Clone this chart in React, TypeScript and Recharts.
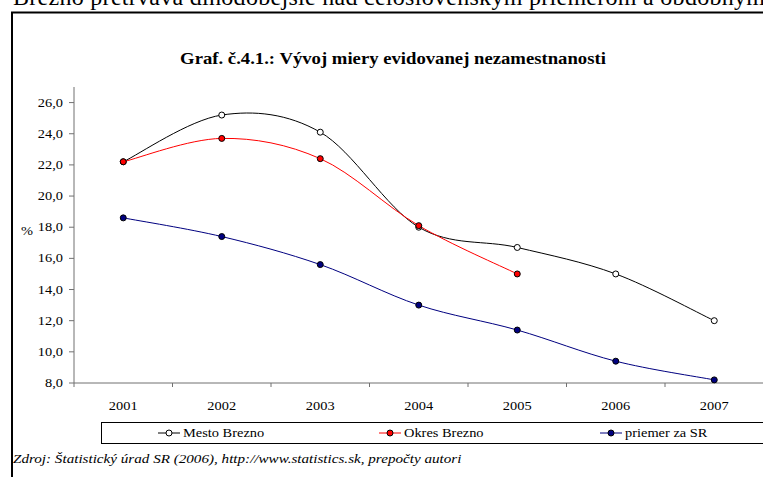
import React from 'react';
import { LineChart, Line, XAxis, YAxis, Legend } from 'recharts';

const years = ['2001', '2002', '2003', '2004', '2005', '2006', '2007'];
const mestoBrezno = [22.2, 25.2, 24.1, 18.0, 16.7, 15.0, 12.0];
const okresBrezno: (number | null)[] = [22.2, 23.7, 22.4, 18.1, 15.0, null, null];
const priemerSR = [18.6, 17.4, 15.6, 13.0, 11.4, 9.4, 8.2];
const yTicks = [8, 10, 12, 14, 16, 18, 20, 22, 24, 26];

const series = [
  { key: 'mesto', name: 'Mesto Brezno', values: mestoBrezno, stroke: '#000000', fill: '#FFFFFF' },
  { key: 'okres', name: 'Okres Brezno', values: okresBrezno, stroke: '#FF0000', fill: '#FF0000' },
  { key: 'sr', name: 'priemer za SR', values: priemerSR, stroke: '#000080', fill: '#000080' },
];

const data = years.map((year, i) => {
  const row: any = { pos: i + 0.5, year };
  series.forEach((s) => {
    row[s.key] = s.values[i];
  });
  return row;
});

const xTicks = years.flatMap((_, i) => [i, i + 0.5]).concat([years.length]);

const AXIS = '#707070';
const FONT = 'Liberation Serif, serif';

// Excel-like smoothed line (Catmull-Rom through points)
const excelSmooth = (context: any) => {
  let pts: number[][] = [];
  return {
    areaStart() {},
    areaEnd() {},
    lineStart() {
      pts = [];
    },
    point(x: number, y: number) {
      pts.push([+x, +y]);
    },
    lineEnd() {
      const n = pts.length;
      if (!n) return;
      context.moveTo(pts[0][0], pts[0][1]);
      for (let i = 0; i < n - 1; i++) {
        const p0 = pts[Math.max(i - 1, 0)];
        const p1 = pts[i];
        const p2 = pts[i + 1];
        const p3 = pts[Math.min(i + 2, n - 1)];
        context.bezierCurveTo(
          p1[0] + (p2[0] - p0[0]) / 6,
          p1[1] + (p2[1] - p0[1]) / 6,
          p2[0] - (p3[0] - p1[0]) / 6,
          p2[1] - (p3[1] - p1[1]) / 6,
          p2[0],
          p2[1]
        );
      }
    },
  };
};

const XTick = (props: any) => {
  const { x, y, payload } = props;
  const v = payload.value;
  if (Number.isInteger(v)) {
    return <line x1={x} x2={x} y1={y} y2={y + 4} stroke={AXIS} strokeWidth={1} />;
  }
  return (
    <text
      transform={`translate(${x},${y + 27}) scale(1.2,1)`}
      textAnchor="middle"
      fontSize={12}
      fontFamily={FONT}
      fill="#000"
    >
      {years[Math.floor(v)]}
    </text>
  );
};

const YTick = (props: any) => {
  const { x, y, payload } = props;
  return (
    <g>
      <line x1={x - 5} x2={x} y1={y} y2={y} stroke={AXIS} strokeWidth={1} />
      <text
        transform={`translate(${x - 11},${y + 4}) scale(1.2,1)`}
        textAnchor="end"
        fontSize={12}
        fontFamily={FONT}
        fill="#000"
      >
        {Number(payload.value).toFixed(1).replace('.', ',')}
      </text>
    </g>
  );
};

const LegendBox = () => (
  <div
    style={{
      position: 'relative',
      width: 700,
      height: 22,
      border: '1px solid #000',
      boxSizing: 'border-box',
      background: '#fff',
      fontFamily: FONT,
    }}
  >
    {series.map((s, i) => (
      <div
        key={s.key}
        style={{
          position: 'absolute',
          left: 56 + i * 221,
          top: 0,
          height: 20,
          display: 'flex',
          alignItems: 'center',
          whiteSpace: 'nowrap',
        }}
      >
        <svg width={22} height={10} style={{ display: 'block' }}>
          <line x1={0} x2={22} y1={5} y2={5} stroke={s.stroke} strokeWidth={1} />
          <circle cx={11} cy={5} r={3} fill={s.fill} stroke="#000" strokeWidth={1} />
        </svg>
        <span
          style={{
            display: 'inline-block',
            marginLeft: 3,
            fontSize: 12,
            fontFamily: FONT,
            color: '#000',
            transform: 'scaleX(1.2)',
            transformOrigin: 'left center',
          }}
        >
          {s.name}
        </span>
      </div>
    ))}
  </div>
);

export default function App() {
  return (
    <div
      style={{
        position: 'fixed',
        left: 0,
        top: 0,
        width: 763,
        height: 477,
        overflow: 'hidden',
        background: '#fff',
        fontFamily: FONT,
      }}
    >
      <svg width={763} height={477} style={{ position: 'absolute', left: 0, top: 0 }}>
        <text x={13} y={5} fontSize={24} fontFamily={FONT} fill="#000" textLength={752} lengthAdjust="spacing">
          Brezno pretrváva dlhodobejšie nad celoslovenským priemerom a obdobným
        </text>
        <rect x={12} y={12.5} width={800} height={600} fill="none" stroke="#000" strokeWidth={2} />
        <text
          transform="translate(393,64) scale(1.1,1)"
          textAnchor="middle"
          fontSize={17}
          fontWeight="bold"
          fontFamily={FONT}
          fill="#000"
        >
          Graf. č.4.1.: Vývoj miery evidovanej nezamestnanosti
        </text>
        <text transform="translate(21,235) scale(1.2,1)" fontSize={12} fontFamily={FONT} fill="#000">
          %
        </text>
        <text
          transform="translate(13,463) scale(1.24,1)"
          fontSize={12.2}
          fontStyle="italic"
          fontFamily={FONT}
          fill="#000"
        >
          Zdroj: Štatistický úrad SR (2006), http://www.statistics.sk, prepočty autori
        </text>
      </svg>
      <div style={{ position: 'absolute', left: 0, top: 0 }}>
        <LineChart
          width={800}
          height={477}
          data={data}
          margin={{ top: 87, right: 36.5, bottom: 64, left: 24 }}
        >
          <XAxis
            dataKey="pos"
            type="number"
            domain={[0, years.length]}
            ticks={xTicks}
            interval={0}
            tickSize={0}
            tickMargin={0}
            tickLine={false}
            tick={<XTick />}
            height={30}
            axisLine={{ stroke: AXIS, strokeWidth: 1 }}
          />
          <YAxis
            type="number"
            domain={[8, 27]}
            ticks={yTicks}
            interval={0}
            tickSize={0}
            tickMargin={0}
            tickLine={false}
            tick={<YTick />}
            width={50}
            axisLine={{ stroke: AXIS, strokeWidth: 1 }}
          />
          <Legend
            layout="horizontal"
            verticalAlign="middle"
            align="center"
            content={() => <LegendBox />}
            wrapperStyle={{ top: 422, left: 101, bottom: 'auto', right: 'auto', width: 700, height: 22 }}
          />
          {series.map((s) => (
            <Line
              key={s.key}
              dataKey={s.key}
              name={s.name}
              type={excelSmooth as any}
              stroke={s.stroke}
              strokeWidth={1}
              dot={{ r: 3, fill: s.fill, stroke: '#000', strokeWidth: 1 }}
              activeDot={false}
              connectNulls={false}
              isAnimationActive={false}
            />
          ))}
        </LineChart>
      </div>
    </div>
  );
}
